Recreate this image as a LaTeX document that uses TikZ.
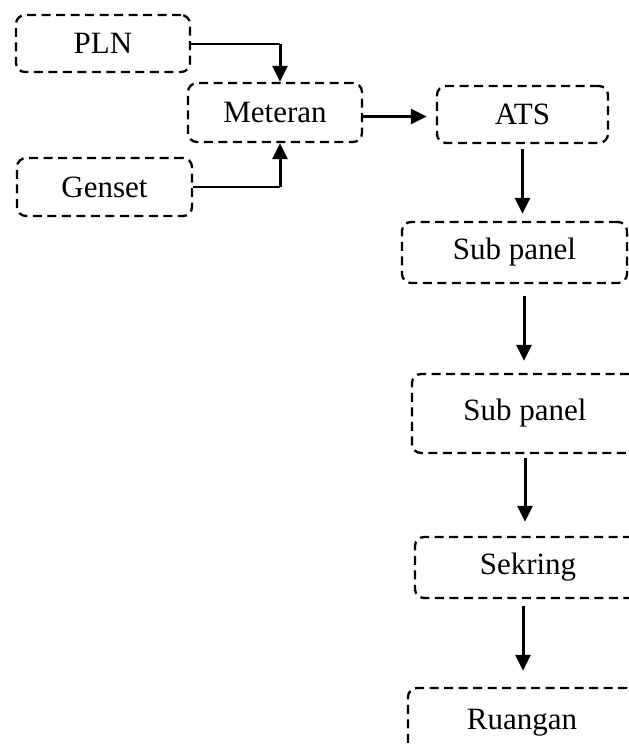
\documentclass[tikz,border=0pt]{standalone}
\usepackage{fontspec}
\setmainfont{Liberation Serif}
\usetikzlibrary{arrows.meta}
\begin{document}
\begin{tikzpicture}[x=1pt,y=-1pt,
  box/.style={draw, line width=2.3pt, dash pattern=on 9pt off 5.5pt, rounded corners=9pt,
    inner sep=0pt, font=\fontsize{31}{36}\selectfont},
  arr/.style={line width=3pt, -{Triangle[length=16pt,width=15pt]}},
  feed/.style={line width=2pt}]
\useasboundingbox (0,0) rectangle (629,747);
\clip (0,0) rectangle (629,747);
\node[box, minimum width=174pt, minimum height=57pt] (pln) at (103,43.5) {PLN};
\node[box, minimum width=174pt, minimum height=59pt] (met) at (275,112.5) {Meteran};
\node[box, minimum width=175pt, minimum height=58pt] (gen) at (104.5,187) {Genset};
\node[box, minimum width=171pt, minimum height=57pt] (ats) at (522.5,114.5) {ATS};
\node[box, minimum width=225pt, minimum height=61pt] (sub1) at (514.5,252.5) {Sub panel};
\node[box, minimum width=226pt, minimum height=79pt] (sub2) at (525,413.5) {Sub panel};
\node[box, minimum width=226pt, minimum height=61pt] (sek) at (528,567.5) {Sekring};
\node[box, minimum width=228pt, minimum height=70pt] (rua) at (522,723) {Ruangan};
\coordinate (pin) at ([xshift=5pt]met.north);
\coordinate (gin) at ([xshift=5pt]met.south);
\draw[feed] (pln.east) -- (pln.east -| pin);
\draw[arr] (pln.east -| pin) -- (pin);
\draw[feed] (gen.east) -- (gen.east -| gin);
\draw[arr] (gen.east -| gin) -- (gin);
\draw[arr, shorten >=9pt] ([yshift=-4pt]met.east) -- ([yshift=-4pt]met.east -| ats.west);
\draw[arr, shorten <=5pt, shorten >=7pt] (ats.south) -- (ats.south |- sub1.north);
\draw[arr, shorten <=12pt, shorten >=12pt] ([xshift=9.5pt]sub1.south) -- ([xshift=9.5pt]sub1.south |- sub2.north);
\draw[arr, shorten <=4pt, shorten >=14pt] (sub2.south) -- (sub2.south |- sek.north);
\draw[arr, shorten <=7pt, shorten >=16pt] ([xshift=-5pt]sek.south) -- ([xshift=-5pt]sek.south |- rua.north);
\end{tikzpicture}
\end{document}
